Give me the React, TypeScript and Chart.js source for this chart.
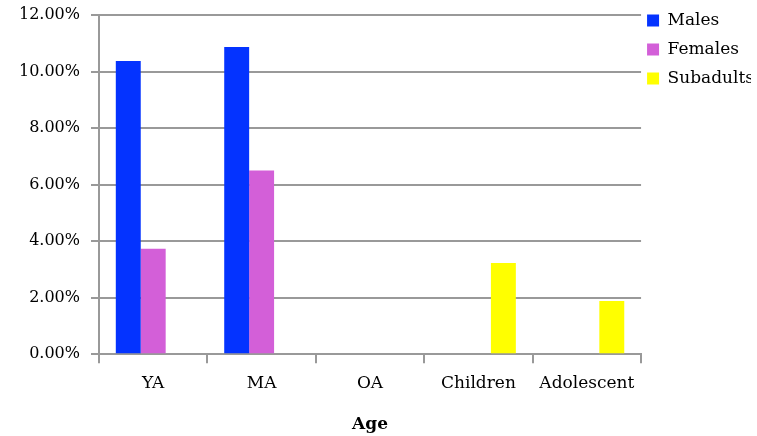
import React, { useEffect, useRef } from "react";
import { Chart, registerables } from "chart.js";
Chart.register(...registerables);

const categories = ["YA", "MA", "OA", "Children", "Adolescent"];
const males = [10.37, 10.87, 0, 0, 0];
const females = [3.73, 6.5, 0, 0, 0];
const subadults = [0, 0, 0, 3.23, 1.88];
const yTicks = [0, 2, 4, 6, 8, 10, 12];

const legendTrim = {
  id: "legendTrim",
  beforeUpdate(chart: any) {
    const lg = chart.legend;
    if (lg && !lg.__trimmed) {
      const orig = lg.fit;
      lg.fit = function () {
        orig.call(this);
        this.width -= 13;
      };
      lg.__trimmed = true;
    }
  },
  afterLayout(chart: any) {
    const lg = chart.legend;
    if (lg) {
      lg.left -= 6;
      lg.right -= 6;
    }
  },
};

export default function App() {
  const ref = useRef<HTMLCanvasElement>(null);
  useEffect(() => {
    document.body.style.margin = "0";
    const fam = "'DejaVu Serif', serif";
    const chart = new Chart(ref.current!, {
      type: "bar",
      data: {
        labels: categories,
        datasets: [
          { label: "Males", data: males, backgroundColor: "#0433FF" },
          { label: "Females", data: females, backgroundColor: "#D35FD8" },
          { label: "Subadults", data: subadults, backgroundColor: "#FFFF00" },
        ],
      },
      plugins: [legendTrim],
      options: {
        animation: false,
        responsive: false,
        layout: { padding: { top: 0, right: 0, left: 0, bottom: 1 } },
        datasets: { bar: { barPercentage: 1, categoryPercentage: 0.69 } },
        plugins: {
          legend: {
            position: "right",
            align: "start",
            labels: {
              font: { family: fam, size: 17 },
              color: "#000",
              boxWidth: 12,
              boxHeight: 12,
              padding: 12,
            },
          },
          tooltip: { enabled: false },
        },
        scales: {
          x: {
            grid: {
              offset: true,
              drawOnChartArea: false,
              color: "#999",
              lineWidth: 2,
              tickLength: 9,
            },
            border: { color: "#999", width: 2 },
            ticks: { font: { family: fam, size: 17 }, color: "#000", padding: 10 },
            title: {
              display: true,
              text: "Age",
              font: { family: fam, size: 17, weight: "bold" },
              color: "#000",
              padding: { top: 11, bottom: 0 },
            },
          },
          y: {
            min: 0,
            max: 12,
            afterBuildTicks: (s: any) => {
              s.ticks = yTicks.map((v) => ({ value: v }));
            },
            afterFit: (s: any) => {
              s.width = 99;
            },
            grid: { color: "#999", lineWidth: 2, tickLength: 8 },
            border: { color: "#999", width: 2 },
            ticks: {
              font: { family: fam, size: 16, lineHeight: 0.5 },
              color: "#000",
              padding: 11,
              callback: (v: any) => Number(v).toFixed(2) + "%",
            },
          },
        },
      },
    });
    return () => chart.destroy();
  }, []);
  return <canvas ref={ref} width={757} height={436} style={{ display: "block" }} />;
}
